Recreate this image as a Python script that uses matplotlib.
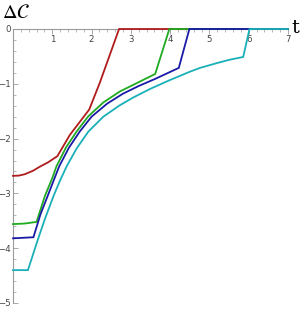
import matplotlib
matplotlib.use("Agg")
import matplotlib.pyplot as plt
from matplotlib.ticker import MultipleLocator, FixedLocator

plt.rcParams.update({
    "font.family": ["DejaVu Sans"],
    "mathtext.fontset": "stix",
})

# curves (t, Delta C)
red_t = [0, 0.15, 0.3, 0.5, 0.69, 0.9, 1.13, 1.45, 1.94, 2.21, 2.70, 7]
red_y = [-2.68, -2.675, -2.65, -2.59, -2.51, -2.43, -2.32, -1.93, -1.47, -0.98, 0, 0]

green_t = [0, 0.3, 0.60, 0.81, 1.0, 1.11, 1.35, 1.62, 1.92, 2.3, 2.72, 3.2, 3.62, 3.98, 7]
green_y = [-3.56, -3.55, -3.52, -3.05, -2.72, -2.50, -2.16, -1.87, -1.59, -1.34, -1.14, -0.97, -0.82, 0, 0]

blue_t = [0, 0.52, 0.70, 0.88, 1.07, 1.18, 1.42, 1.70, 2.0, 2.4, 2.8, 3.2, 3.62, 4.22, 4.49, 7]
blue_y = [-3.82, -3.80, -3.38, -3.05, -2.70, -2.50, -2.17, -1.87, -1.60, -1.36, -1.18, -1.04, -0.91, -0.71, 0, 0]

cyan_t = [0, 0.38, 0.62, 0.81, 1.03, 1.2, 1.37, 1.62, 1.92, 2.3, 2.7, 3.06, 3.5, 4.0, 4.5,
          4.76, 5.2, 5.52, 5.86, 6.02, 7]
cyan_y = [-4.40, -4.40, -3.87, -3.47, -3.05, -2.76, -2.50, -2.18, -1.87, -1.60, -1.40, -1.25, -1.09,
          -0.93, -0.78, -0.71, -0.62, -0.56, -0.51, 0, 0]

series = [
    (red_t, red_y, "#b01c1c"),
    (green_t, green_y, "#1faa1f"),
    (blue_t, blue_y, "#1a1aa8"),
    (cyan_t, cyan_y, "#1ab0b8"),
]

x_major = [1, 2, 3, 4, 5, 6, 7]
y_major = [0, -1, -2, -3, -4, -5]

fig = plt.figure(figsize=(3.0, 3.09), dpi=100)
ax = fig.add_axes([13 / 300, 1 - 303 / 309, 275 / 300, 274 / 309])

for t, y, c in series:
    ax.plot(t, y, color=c, lw=1.3, clip_on=False, solid_joinstyle="miter")

ax.set_xlim(0, 7)
ax.set_ylim(-5, 0)

axis_col = "#9a9a9a"
for s in ("top", "right"):
    ax.spines[s].set_visible(False)
ax.spines["bottom"].set_position(("data", 0))
ax.spines["bottom"].set_color(axis_col)
ax.spines["left"].set_color(axis_col)
ax.spines["bottom"].set_zorder(0)
ax.spines["left"].set_zorder(0)

ax.xaxis.set_major_locator(FixedLocator(x_major))
ax.xaxis.set_minor_locator(MultipleLocator(0.2))
ax.yaxis.set_major_locator(FixedLocator(y_major))
ax.yaxis.set_minor_locator(MultipleLocator(0.2))
ax.set_xticklabels([str(v) for v in x_major])
ax.set_yticklabels(["0" if v == 0 else "\u2212" + str(-v) for v in y_major])

ax.tick_params(axis="x", which="major", direction="out", length=3.5, width=0.6,
               color=axis_col, labelsize=6.2, labelcolor="#444444", pad=1)
ax.tick_params(axis="x", which="minor", direction="out", length=2, width=0.5,
               color=axis_col)
ax.tick_params(axis="y", which="major", direction="in", length=3.5, width=0.6,
               color=axis_col, labelsize=6.2, labelcolor="#444444", pad=1.2)
ax.tick_params(axis="y", which="minor", direction="in", length=2, width=0.5,
               color=axis_col)

fig.text(16 / 300, 1 - 13 / 309, r"$\Delta\mathcal{C}$", fontsize=14.5,
         ha="center", va="center")
fig.text(295 / 300, 1 - 28 / 309, "t", fontsize=14, family="serif",
         ha="center", va="center")

fig.savefig("out.png", dpi=100)
